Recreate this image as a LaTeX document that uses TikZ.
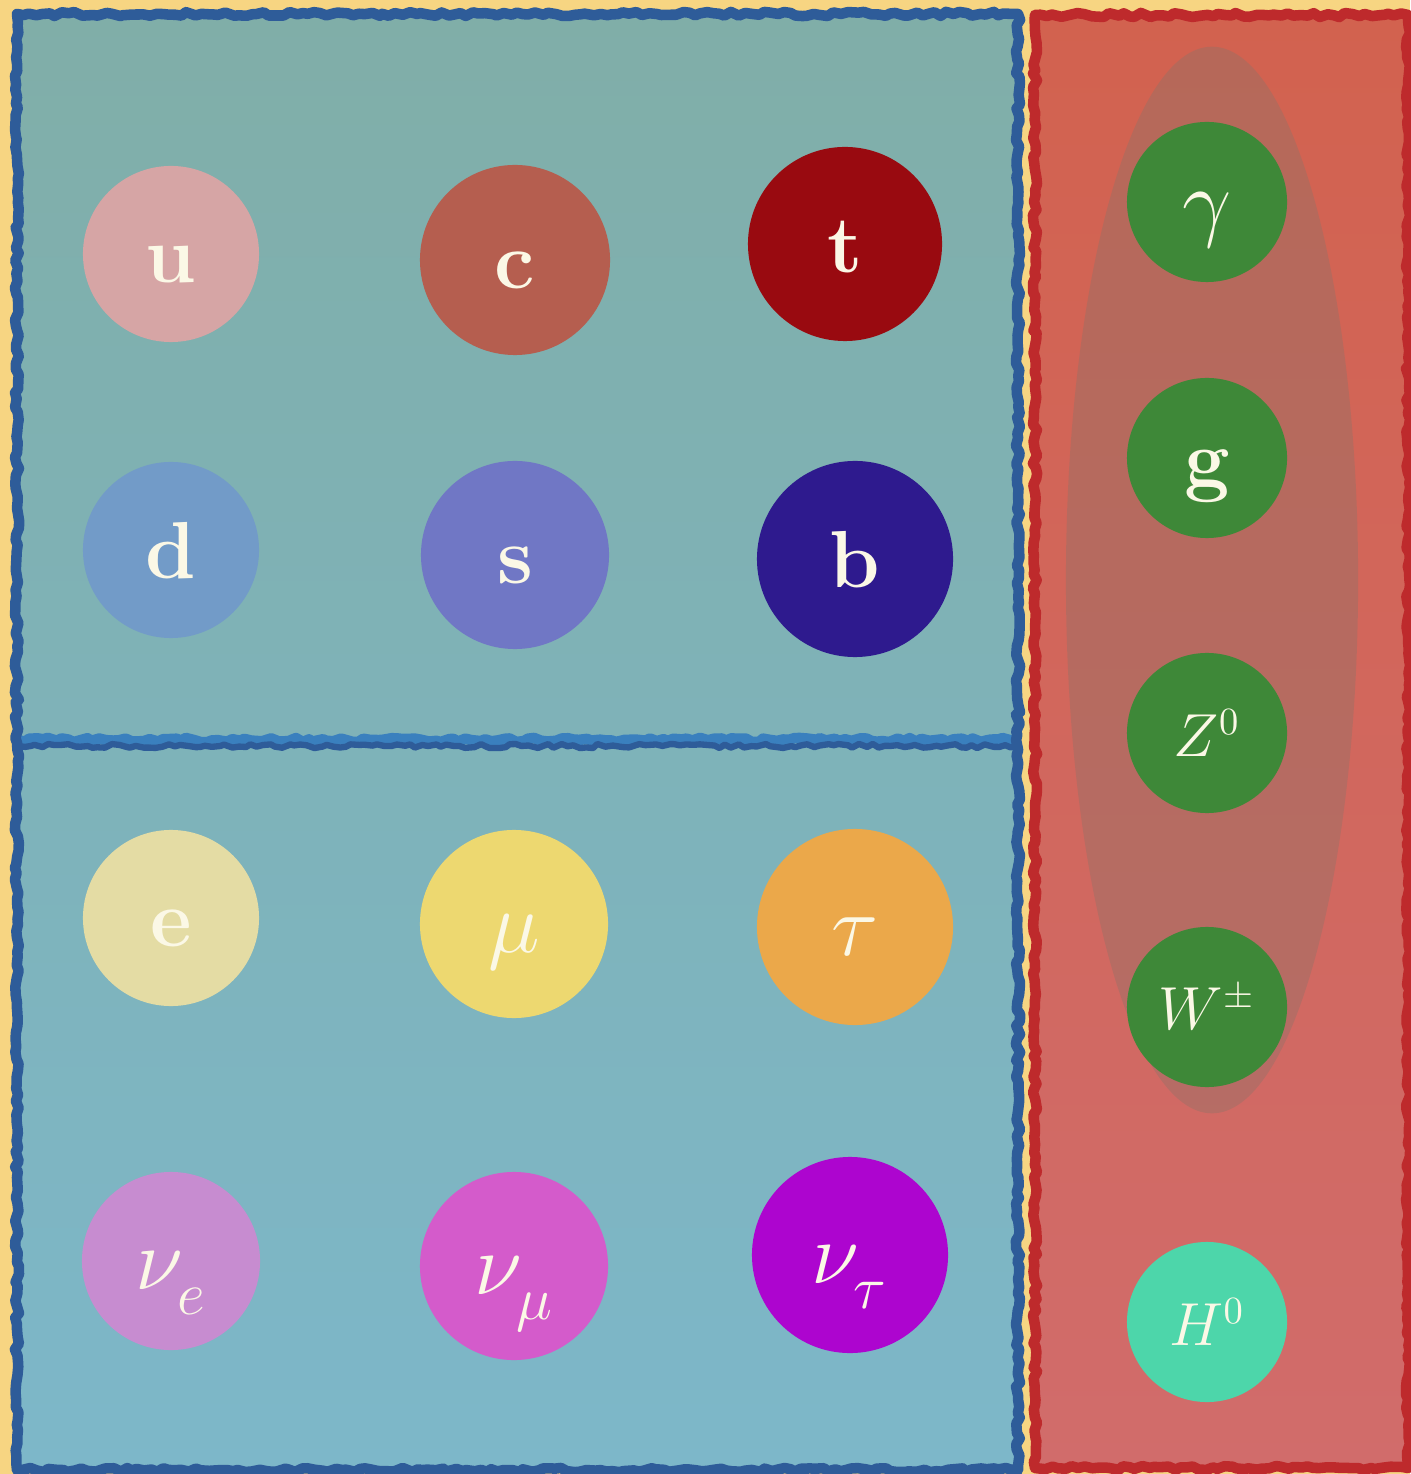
\documentclass[tikz,border=0pt]{standalone}
\usetikzlibrary{decorations.pathmorphing}
\definecolor{bgyel}{HTML}{F7D582}
\definecolor{bluedark}{HTML}{2E5C99}
\definecolor{bluelight}{HTML}{3A80BE}
\definecolor{redline}{HTML}{BE2A2C}
\definecolor{cream}{HTML}{FBF8E6}
\definecolor{cu}{HTML}{D6A5A5}
\definecolor{cc}{HTML}{B55E4F}
\definecolor{ct}{HTML}{990A10}
\definecolor{cd}{HTML}{729BC8}
\definecolor{cs}{HTML}{7077C5}
\definecolor{cb}{HTML}{2E1A8E}
\definecolor{ce}{HTML}{E4DCA4}
\definecolor{cmu}{HTML}{EDD870}
\definecolor{ctau}{HTML}{EBA84A}
\definecolor{cne}{HTML}{C78CD0}
\definecolor{cnm}{HTML}{D45BCB}
\definecolor{cnt}{HTML}{AD05CF}
\definecolor{cgreen}{HTML}{3E8838}
\definecolor{chiggs}{HTML}{4DD6AA}
\definecolor{cell}{HTML}{8E7268}
\newcommand{\lsub}[1]{_{\lower 3.5pt\hbox{$\scriptstyle #1$}}}
\tikzset{
  particle/.style={circle, fill=#1, inner sep=0pt, text=cream},
  lowbase/.style={text height=16pt, text depth=0pt},
  quarkfont/.style={font=\fontsize{23}{27}\selectfont\bfseries, lowbase},
  greekfont/.style={font=\fontsize{23}{27}\selectfont, lowbase},
  bosonfont/.style={font=\fontsize{16}{20}\selectfont},
  sketch/.style={line width=3pt, decorate, decoration={random steps, segment length=1.8pt, amplitude=0.6pt}, line join=round}
}
\begin{document}
\begin{tikzpicture}[x=0.01cm, y=-0.01cm]
\useasboundingbox (0,0) rectangle (1410,1474);
\fill[bgyel] (0,0) rectangle (1410,1474);
% blue panels
\shade[top color={rgb,255:red,128;green,174;blue,168}, bottom color={rgb,255:red,125;green,183;blue,201}] (17,14) rectangle (1018,1470);
% red panel
\shade[top color={rgb,255:red,210;green,98;blue,79}, bottom color={rgb,255:red,209;green,108;blue,107}] (1035,15) rectangle (1408,1468);
% ellipse
\fill[cell, opacity=0.4] (1212,580) ellipse [x radius=1.46cm, y radius=5.33cm];
% borders
\draw[sketch, bluelight] (17,740) -- (1018,740);
\draw[sketch, bluedark, line width=1.8pt] (17,746) -- (1018,746);
\draw[sketch, bluedark] (17,14) -- (1018,14) -- (1018,1470) -- (17,1470) -- cycle;
\draw[sketch, redline] (1035,15) -- (1408,15) -- (1408,1468) -- (1035,1468) -- cycle;
% quarks
\node[particle=cu, minimum size=1.76cm, quarkfont] (u) at (171,254) {u};
\node[particle=cc, minimum size=1.90cm, quarkfont] (c) at (515,260) {c};
\node[particle=ct, minimum size=1.94cm, quarkfont] (t) at (845,244) {t};
\node[particle=cd, minimum size=1.76cm, quarkfont] (d) at (171,550) {d};
\node[particle=cs, minimum size=1.88cm, quarkfont] (s) at (515,555) {s};
\node[particle=cb, minimum size=1.96cm, quarkfont] (b) at (855,559) {b};
% leptons
\node[particle=ce, minimum size=1.76cm, quarkfont] (e) at (171,918) {e};
\node[particle=cmu, minimum size=1.88cm, greekfont] (mu) at (514,924) {$\mu$};
\node[particle=ctau, minimum size=1.96cm, greekfont] (tau) at (855,927) {$\tau$};
\node[particle=cne, minimum size=1.78cm, greekfont] (nue) at (171,1261) {$\nu\lsub{e}$};
\node[particle=cnm, minimum size=1.88cm, greekfont] (numu) at (514,1266) {$\nu\lsub{\mu}$};
\node[particle=cnt, minimum size=1.96cm, greekfont] (nutau) at (850,1255) {$\nu\lsub{\tau}$};
% bosons
\node[particle=cgreen, minimum size=1.60cm, greekfont] (gamma) at (1207,202) {$\gamma$};
\node[particle=cgreen, minimum size=1.60cm, quarkfont] (g) at (1207,458) {g};
\node[particle=cgreen, minimum size=1.60cm, bosonfont] (Z) at (1207,733) {$Z^0$};
\node[particle=cgreen, minimum size=1.60cm, bosonfont] (W) at (1207,1007) {$W^\pm$};
\node[particle=chiggs, minimum size=1.60cm, bosonfont] (H) at (1207,1322) {$H^0$};
\end{tikzpicture}
\end{document}
